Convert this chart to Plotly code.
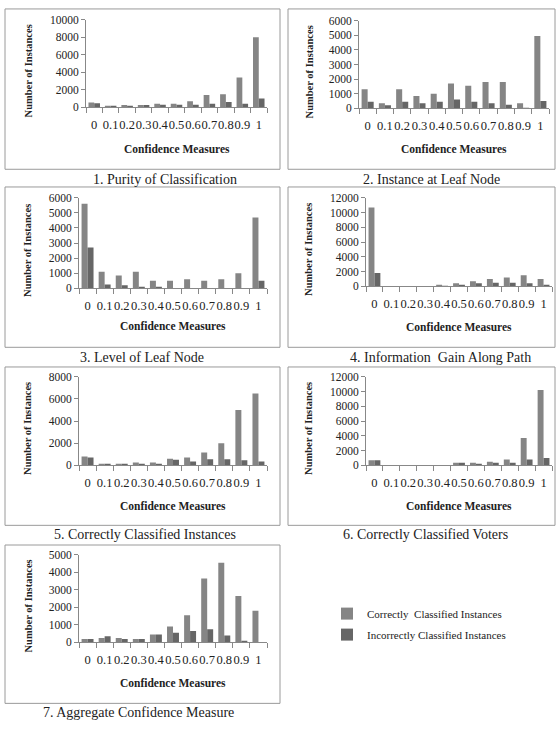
import plotly.graph_objects as go

W, H = 558, 731

categories = ["0", "0.1", "0.2", "0.3", "0.4", "0.5", "0.6", "0.7", "0.8", "0.9", "1"]

titles = [
    "1. Purity of Classification",
    "2. Instance at Leaf Node",
    "3. Level of Leaf Node",
    "4. Information  Gain Along Path",
    "5. Correctly Classified Instances",
    "6. Correctly Classified Voters",
    "7. Aggregate Confidence Measure",
]

correct_1 = [550, 150, 250, 250, 400, 400, 700, 1400, 1500, 3400, 8000]
incorrect_1 = [450, 100, 150, 250, 300, 300, 300, 400, 600, 400, 1000]

correct_2 = [1300, 350, 1300, 850, 1000, 1700, 1550, 1800, 1800, 350, 4950]
incorrect_2 = [450, 200, 450, 350, 450, 600, 450, 350, 250, 30, 500]

correct_3 = [5600, 1100, 850, 1100, 500, 500, 600, 500, 600, 1000, 4700]
incorrect_3 = [2700, 250, 200, 100, 100, 0, 0, 0, 0, 0, 500]

correct_4 = [10700, 0, 0, 0, 200, 400, 700, 1000, 1200, 1500, 1000]
incorrect_4 = [1800, 0, 0, 0, 50, 200, 400, 500, 500, 400, 200]

correct_5 = [800, 100, 150, 250, 250, 600, 700, 1150, 2000, 5000, 6500]
incorrect_5 = [700, 50, 150, 150, 150, 500, 350, 550, 550, 450, 350]

correct_6 = [700, 0, 0, 0, 0, 350, 350, 500, 800, 3700, 10200]
incorrect_6 = [700, 0, 0, 0, 0, 350, 200, 350, 350, 800, 1000]

correct_7 = [200, 250, 250, 200, 450, 900, 1550, 3650, 4550, 2650, 1800]
incorrect_7 = [200, 350, 200, 200, 450, 550, 650, 750, 400, 100, 0]

correct_all = [correct_1, correct_2, correct_3, correct_4, correct_5, correct_6, correct_7]
incorrect_all = [incorrect_1, incorrect_2, incorrect_3, incorrect_4, incorrect_5, incorrect_6, incorrect_7]

y_max = [10000, 6000, 6000, 12000, 8000, 12000, 5000]
y_dtick = [2000, 1000, 1000, 2000, 2000, 2000, 1000]

series_names = ["Correctly  Classified Instances", "Incorrectly Classified Instances"]

# layout (pixels): plot area x0, x1, baseline y, top y
plot_px = [
    (86, 267, 103, 14),
    (359, 549, 104, 15),
    (79, 267, 287, 195),
    (366, 552, 285, 195),
    (79, 267, 467, 377),
    (366, 552, 467, 377),
    (79, 267, 647, 558),
]
box_px = [
    (5, 280, 3, 166),
    (288, 555, 3, 166),
    (5, 280, 184, 347),
    (288, 555, 184, 347),
    (5, 280, 367, 528),
    (288, 555, 367, 528),
    (5, 280, 548, 709),
]
title_px = [(165, 176), (431, 176), (142, 357), (440, 357), (145, 537), (425, 537), (138, 718)]
ytitle_px = [28, 309, 28, 309, 28, 309, 28]
xtitle_y = [145, 145, 325, 326, 508, 508, 688]

SERIF = "Liberation Serif, Times New Roman, serif"
C_COR = "#858585"
C_INC = "#666666"

def px_x(v):
    return v / W

def px_y(v):
    return 1 - v / H

fig = go.Figure()
annotations = []
shapes = []

for i in range(7):
    n = "" if i == 0 else str(i + 1)
    xa, ya = "x" + n, "y" + n
    fig.add_trace(go.Bar(x=categories, y=correct_all[i], name=series_names[0],
                         marker=dict(color=C_COR, line=dict(width=0)),
                         xaxis=xa, yaxis=ya, showlegend=(i == 0), legendgroup="c"))
    fig.add_trace(go.Bar(x=categories, y=incorrect_all[i], name=series_names[1],
                         marker=dict(color=C_INC, line=dict(width=0)),
                         xaxis=xa, yaxis=ya, showlegend=(i == 0), legendgroup="i"))
    x0, x1, yb, yt = plot_px[i]
    fig.layout["xaxis" + n] = dict(
        domain=[px_x(x0), px_x(x1)], anchor=ya, type="category",
        tickmode="array", tickvals=categories, ticktext=categories,
        tickson="boundaries", ticks="outside", ticklen=5, tickcolor="#888",
        showline=True, linecolor="#888", linewidth=1, showgrid=False,
        tickangle=0, tickfont=dict(family=SERIF, size=12.5, color="#222"),
        ticklabelstandoff=6, fixedrange=True,
    )
    fig.layout["yaxis" + n] = dict(
        domain=[px_y(yb), px_y(yt)], anchor=xa, range=[0, y_max[i]],
        dtick=y_dtick[i], tick0=0, tickformat="d", ticks="outside", ticklen=4,
        tickcolor="#888", showline=True, linecolor="#888", linewidth=1,
        showgrid=False, zeroline=False,
        tickfont=dict(family=SERIF, size=11.5, color="#222"), fixedrange=True,
    )
    bx0, bx1, by0, by1 = box_px[i]
    shapes.append(dict(type="rect", xref="paper", yref="paper",
                       x0=px_x(bx0), x1=px_x(bx1), y0=px_y(by1), y1=px_y(by0),
                       line=dict(color="#9a9a9a", width=1)))
    tx, ty = title_px[i]
    annotations.append(dict(text=titles[i], xref="paper", yref="paper",
                            x=px_x(tx), y=px_y(ty), showarrow=False,
                            xanchor="center", yanchor="middle",
                            font=dict(family=SERIF, size=14, color="#222")))
    annotations.append(dict(text="<b>Confidence Measures</b>", xref="paper", yref="paper",
                            x=px_x((x0 + x1) / 2), y=px_y(xtitle_y[i]), showarrow=False,
                            xanchor="center", yanchor="middle",
                            font=dict(family=SERIF, size=11.5, color="#222")))
    annotations.append(dict(text="<b>Number of Instances</b>", xref="paper", yref="paper",
                            x=px_x(ytitle_px[i]), y=px_y((yb + yt) / 2 + 8), showarrow=False,
                            textangle=-90, xanchor="center", yanchor="middle",
                            font=dict(family=SERIF, size=10.5, color="#222")))

fig.update_layout(
    width=W, height=H,
    margin=dict(l=0, r=0, t=0, b=0),
    paper_bgcolor="white", plot_bgcolor="white",
    barmode="group", bargap=0.3, bargroupgap=0,
    shapes=shapes, annotations=annotations,
    showlegend=True,
    legend=dict(x=px_x(327), y=px_y(603), xanchor="left", yanchor="top",
                font=dict(family=SERIF, size=11, color="#222"),
                bgcolor="rgba(0,0,0,0)", tracegroupgap=2, itemwidth=30),
)

post = (
    "document.documentElement.style.margin='0px';"
    "document.body.style.margin='0px';"
    "document.documentElement.style.overflow='hidden';"
    "var d=document.getElementById('{plot_id}');"
    "d.style.position='fixed';d.style.top='0px';d.style.left='0px';"
)

fig.write_html("out.html", config={"displayModeBar": False}, post_script=post)
